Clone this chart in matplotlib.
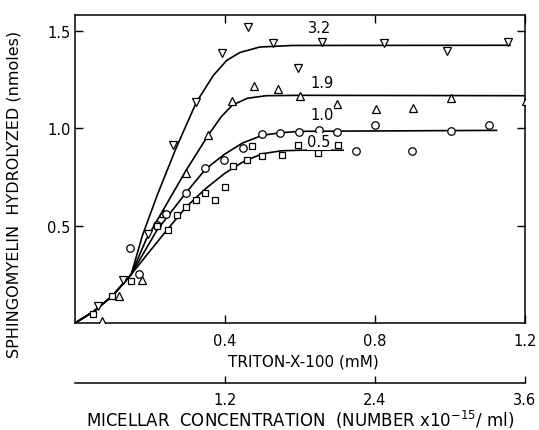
import matplotlib
matplotlib.use("Agg")
import matplotlib.pyplot as plt


# 1. Data (x = Triton-X-100 mM, y = nmoles hydrolyzed)
pts_32_x = [0.062, 0.127, 0.195, 0.262, 0.324, 0.393, 0.462, 0.529, 0.594, 0.660, 0.825, 0.991, 1.156]
pts_32_y = [0.086, 0.220, 0.460, 0.917, 1.135, 1.388, 1.520, 1.438, 1.310, 1.443, 1.438, 1.396, 1.446]

pts_19_x = [0.071, 0.118, 0.180, 0.235, 0.295, 0.356, 0.420, 0.478, 0.542, 0.600, 0.700, 0.803, 0.902, 1.004, 1.203]
pts_19_y = [0.012, 0.137, 0.220, 0.564, 0.770, 0.967, 1.140, 1.220, 1.200, 1.169, 1.126, 1.100, 1.105, 1.155, 1.143]

pts_10_x = [0.147, 0.172, 0.220, 0.244, 0.295, 0.348, 0.397, 0.447, 0.500, 0.548, 0.598, 0.651, 0.699, 0.749, 0.800, 0.899, 1.003, 1.104]
pts_10_y = [0.386, 0.252, 0.504, 0.560, 0.667, 0.795, 0.840, 0.900, 0.972, 0.977, 0.980, 0.994, 0.980, 0.883, 1.015, 0.883, 0.986, 1.020]

pts_05_x = [0.047, 0.098, 0.149, 0.220, 0.247, 0.271, 0.296, 0.322, 0.348, 0.373, 0.400, 0.422, 0.459, 0.473, 0.498, 0.551, 0.596, 0.649, 0.702]
pts_05_y = [0.046, 0.137, 0.217, 0.500, 0.478, 0.555, 0.595, 0.634, 0.667, 0.634, 0.700, 0.809, 0.840, 0.912, 0.857, 0.866, 0.917, 0.874, 0.915]

# fitted curves
fit_32_x = [0, 0.05, 0.10, 0.15, 0.18, 0.22, 0.27, 0.324, 0.369, 0.405, 0.44, 0.493, 0.58, 1.16]
fit_32_y = [0, 0.06, 0.14, 0.25, 0.45, 0.66, 0.90, 1.135, 1.272, 1.350, 1.39, 1.418, 1.426, 1.427]

fit_19_x = [0, 0.05, 0.10, 0.15, 0.19, 0.235, 0.295, 0.356, 0.39, 0.42, 0.46, 0.51, 0.60, 1.20]
fit_19_y = [0, 0.06, 0.14, 0.25, 0.43, 0.58, 0.78, 0.967, 1.06, 1.12, 1.155, 1.168, 1.17, 1.168]

fit_10_x = [0, 0.05, 0.10, 0.15, 0.218, 0.295, 0.348, 0.397, 0.447, 0.50, 0.55, 0.60, 1.124]
fit_10_y = [0, 0.06, 0.14, 0.25, 0.475, 0.667, 0.790, 0.865, 0.925, 0.965, 0.978, 0.985, 0.99]

fit_05_x = [0, 0.05, 0.10, 0.15, 0.20, 0.244, 0.296, 0.348, 0.40, 0.45, 0.50, 0.55, 0.60, 0.715]
fit_05_y = [0, 0.06, 0.14, 0.25, 0.37, 0.475, 0.595, 0.690, 0.77, 0.83, 0.87, 0.885, 0.888, 0.888]

curve_labels = ["3.2", "1.9", "1.0", "0.5"]
label_x = [0.651, 0.658, 0.658, 0.651]
label_y = [1.516, 1.237, 1.069, 0.932]

x_ticks = [0.4, 0.8, 1.2]
y_ticks = [0.5, 1.0, 1.5]
micellar_ticks = [1.2, 2.4, 3.6]


# 2. Figure
fig, ax = plt.subplots(figsize=(5.39, 4.31), dpi=100)
fig.subplots_adjust(left=0.139, right=0.974, bottom=0.248, top=0.964)

series = [
    (pts_32_x, pts_32_y, fit_32_x, fit_32_y, "v", 6.0),
    (pts_19_x, pts_19_y, fit_19_x, fit_19_y, "^", 6.0),
    (pts_10_x, pts_10_y, fit_10_x, fit_10_y, "o", 5.4),
    (pts_05_x, pts_05_y, fit_05_x, fit_05_y, "s", 5.0),
]

for px, py, fx, fy, mk, ms in series:
    ax.plot(fx, fy, color="black", lw=1.2, zorder=2)
    ax.plot(
        px,
        py,
        linestyle="none",
        marker=mk,
        markersize=ms,
        markerfacecolor="white",
        markeredgecolor="black",
        markeredgewidth=0.9,
        zorder=3,
    )

for txt, tx, ty in zip(curve_labels, label_x, label_y):
    ax.text(tx, ty, txt, fontsize=10.5, ha="center", va="center",
            bbox=dict(facecolor="white", edgecolor="none", pad=0.5))


# 3. Axes
ax.set_xlim(0, 1.2)
ax.set_ylim(0, 1.585)
ax.set_xticks(x_ticks)
ax.set_xticklabels(["0.4", "0.8", "1.2"])
ax.set_yticks(y_ticks)
ax.set_yticklabels(["0.5", "1.0", "1.5"])
ax.tick_params(direction="in", length=6, width=1, top=True, right=True,
               labelsize=10.5)
ax.tick_params(axis="y", pad=3)
ax.tick_params(axis="x", pad=7)
for sp in ax.spines.values():
    sp.set_linewidth(1.1)

ax.set_xlabel("TRITON-X-100 (mM)", fontsize=11)
ax.xaxis.set_label_coords(0.508, -0.098)
ax.set_ylabel("SPHINGOMYELIN  HYDROLYZED (nmoles)", fontsize=11.5)
ax.yaxis.set_label_coords(-0.118, 0.42)

# second scale: micellar concentration
sec = ax.secondary_xaxis(-0.195, functions=(lambda x: x * 3, lambda x: x / 3))
sec.set_xticks(micellar_ticks)
sec.set_xticklabels(["1.2", "2.4", "3.6"])
sec.tick_params(direction="in", length=5, width=1, labelsize=10.5, pad=6)
sec.spines["bottom"].set_linewidth(1.1)
sec.set_xlabel(r"MICELLAR  CONCENTRATION  (NUMBER x10$^{-15}$/ ml)",
               fontsize=12, labelpad=1)

fig.savefig("out.png", dpi=100)
